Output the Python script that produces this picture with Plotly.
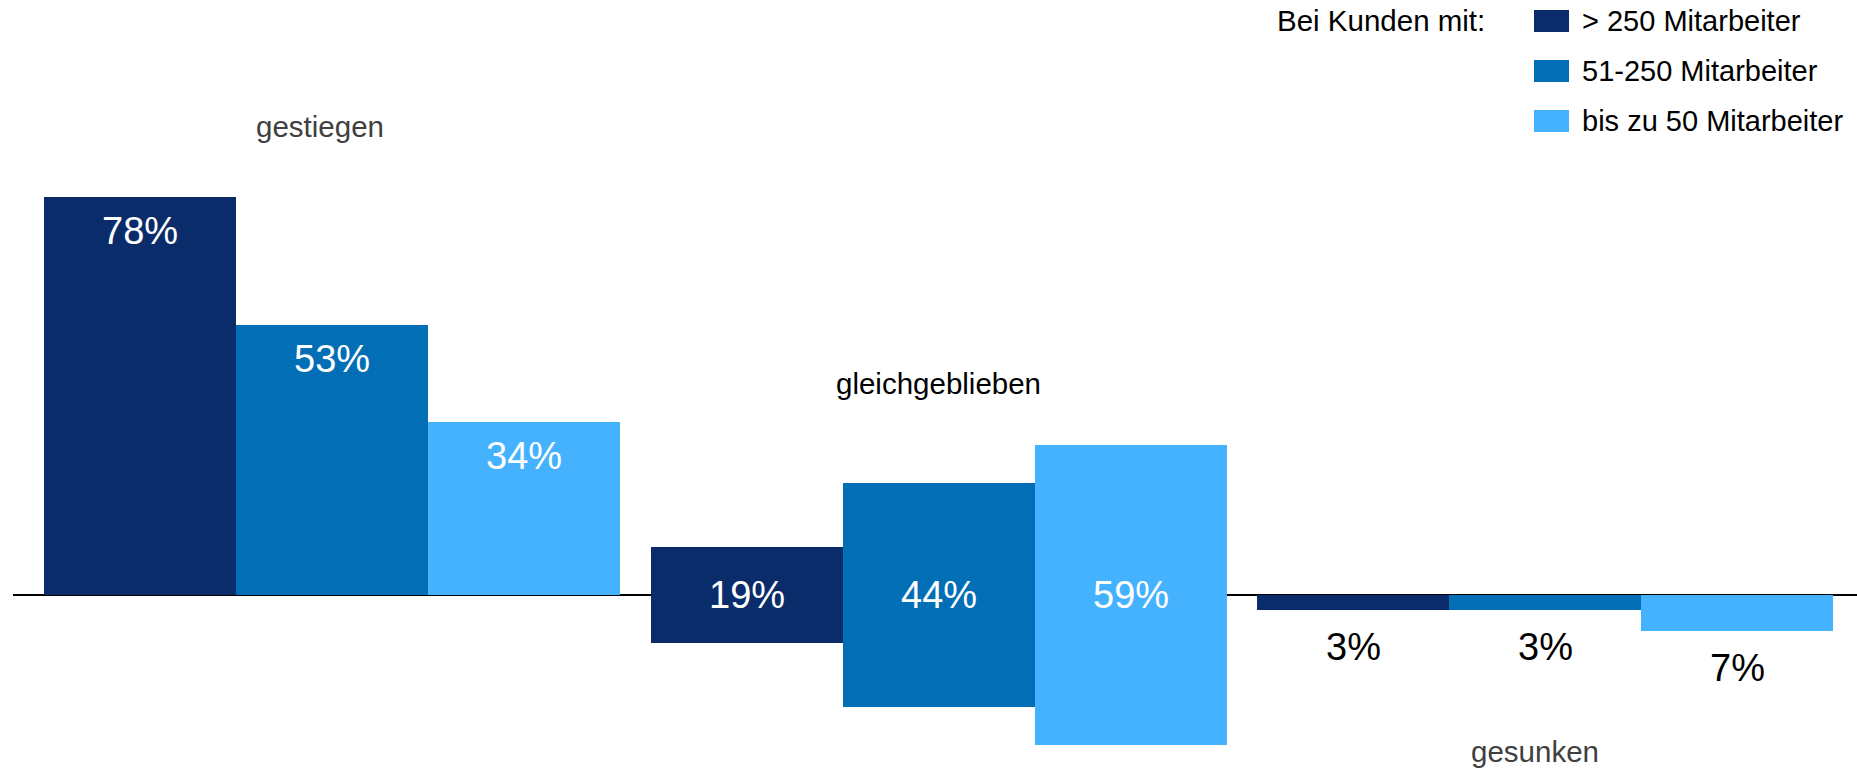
import plotly.graph_objects as go

# ---------------- data ----------------
categories = ["gestiegen", "gleichgeblieben", "gesunken"]
series_names = ["> 250 Mitarbeiter", "51-250 Mitarbeiter", "bis zu 50 Mitarbeiter"]
values_over_250 = [78, 19, 3]
values_51_250 = [53, 44, 3]
values_up_to_50 = [34, 59, 7]
legend_title = "Bei Kunden mit:"

# ---------------- style ----------------
W, H = 1857, 769
FONT = "Liberation Sans, Arial, Helvetica, sans-serif"
series_values = [values_over_250, values_51_250, values_up_to_50]
series_colors = ["#0b2c6b", "#016eb6", "#44b2ff"]
group_modes = ["up", "center", "down"]          # how bars of each category hang on the baseline
category_colors = ["#404040", "#000000", "#404040"]
category_label_y = [1 - 126 / H, 1 - 384 / H, 1 - 751 / H]
category_xshift = [-12, 0, -10]
GROUP_STEP = 3.16
PX_PER_UNIT_X = 192.0
PX_PER_PCT = 5.1
BASE_PX = 595
X_LEFT = -140 / PX_PER_UNIT_X

fig = go.Figure()
annotations = []

for i, (name, color, vals) in enumerate(zip(series_names, series_colors, series_values)):
    xs, ys, bases = [], [], []
    for g, v in enumerate(vals):
        xs.append(g * GROUP_STEP + i)
        mode = group_modes[g]
        if mode == "up":
            ys.append(v); bases.append(0)
        elif mode == "center":
            ys.append(v); bases.append(-v / 2)
        else:
            ys.append(-v); bases.append(0)
    fig.add_trace(go.Bar(
        x=xs, y=ys, base=bases, width=1, name=name,
        marker=dict(color=color, line=dict(width=0)),
        showlegend=False, hoverinfo="name+text",
        text=[f"{v}%" for v in vals], textposition="none",
    ))
    for g, v in enumerate(vals):
        mode = group_modes[g]
        if mode == "up":
            y, shift, col = v, -34, "white"
        elif mode == "center":
            y, shift, col = bases[g] + v / 2, 0, "white"
        else:
            y, shift, col = -v, -37, "black"
        annotations.append(dict(
            x=xs[g], y=y, xref="x", yref="y", text=f"{v}%", showarrow=False,
            yshift=shift, xanchor="center", yanchor="middle",
            font=dict(family=FONT, size=38, color=col),
        ))

# category labels
for g, cat in enumerate(categories):
    annotations.append(dict(
        x=g * GROUP_STEP + 1, y=category_label_y[g], xref="x", yref="paper",
        xshift=category_xshift[g],
        text=cat, showarrow=False, xanchor="center", yanchor="middle",
        font=dict(family=FONT, size=29.5, color=category_colors[g]),
    ))

# custom legend
shapes = []
annotations.append(dict(
    x=1275 / W, y=1 - 21 / H, xref="paper", yref="paper", text=legend_title,
    showarrow=False, xanchor="left", yanchor="middle",
    font=dict(family=FONT, size=29.5, color="black"),
))
for i, (name, color) in enumerate(zip(series_names, series_colors)):
    cy = 21 + 50 * i
    shapes.append(dict(
        type="rect", xref="paper", yref="paper",
        x0=1534 / W, x1=1569 / W, y0=1 - (cy - 11) / H, y1=1 - (cy + 11) / H,
        fillcolor=color, line=dict(width=0),
    ))
    annotations.append(dict(
        x=1580 / W, y=1 - cy / H, xref="paper", yref="paper", text=name,
        showarrow=False, xanchor="left", yanchor="middle",
        font=dict(family=FONT, size=29, color="black"),
    ))

# baseline
shapes.append(dict(
    type="line", xref="paper", yref="y", x0=13 / W, x1=1, y0=0, y1=0,
    line=dict(color="black", width=2), layer="below",
))

fig.update_layout(
    width=W, height=H, autosize=False,
    margin=dict(l=0, r=0, t=0, b=0, pad=0),
    paper_bgcolor="white", plot_bgcolor="white",
    barmode="overlay", bargap=0,
    xaxis=dict(range=[X_LEFT, X_LEFT + W / PX_PER_UNIT_X], visible=False, fixedrange=True),
    yaxis=dict(range=[-(H - BASE_PX) / PX_PER_PCT, BASE_PX / PX_PER_PCT], visible=False, fixedrange=True),
    annotations=annotations, shapes=shapes,
    font=dict(family=FONT),
)

fig.write_html(
    "out.html",
    config={"displayModeBar": False},
    post_script="document.body.style.margin='0';document.body.style.overflow='hidden';",
)
